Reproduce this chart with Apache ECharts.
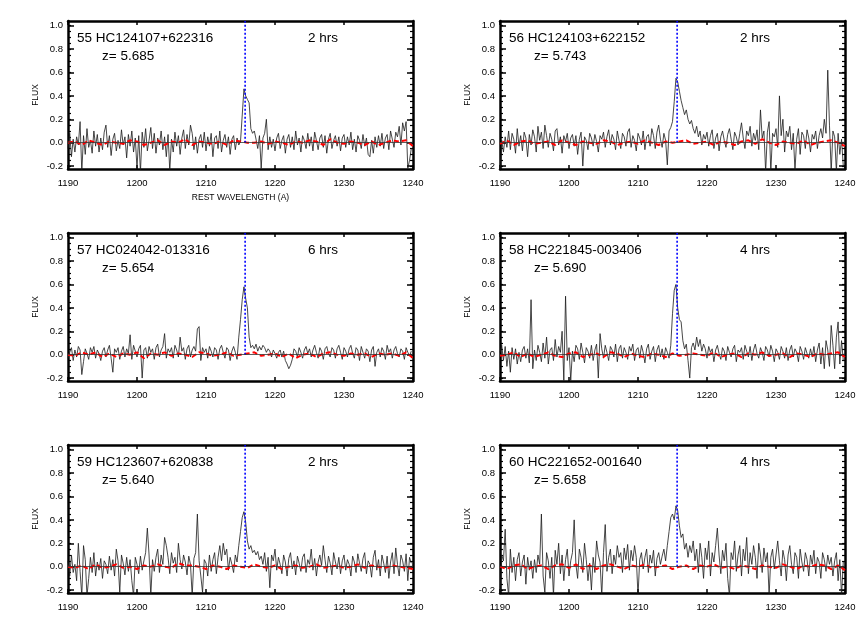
<!DOCTYPE html>
<html>
<head>
<meta charset="utf-8">
<title>Lyman alpha spectra</title>
<script src="https://cdn.jsdelivr.net/npm/echarts@6/dist/echarts.min.js"></script>
<style>
    html, body { margin: 0; padding: 0; background: #fff; }
    #chart { width: 864px; height: 637px; }
</style>
</head>
<body>
<div id="chart"></div>
<script>
// wavelength sampling of the spectra (rest frame, A)
var waveStart = 1190;
var waveStep = 0.25;
var redStep = 1;
var lyaWave = 1215.67;

var yMajor = [-0.2, 0.0, 0.2, 0.4, 0.6, 0.8, 1.0];
var yMinor = [-0.2, -0.15, -0.1, -0.05, 0, 0.05, 0.1, 0.15, 0.2, 0.25, 0.3, 0.35, 0.4, 0.45, 0.5,
    0.55, 0.6, 0.65, 0.7, 0.75, 0.8, 0.85, 0.9, 0.95, 1.0];

var objNames = ['55 HC124107+622316', '56 HC124103+622152', '57 HC024042-013316',
    '58 HC221845-003406', '59 HC123607+620838', '60 HC221652-001640'];
var redshifts = ['z= 5.685', 'z= 5.743', 'z= 5.654', 'z= 5.690', 'z= 5.640', 'z= 5.658'];
var exposures = ['2 hrs', '2 hrs', '6 hrs', '4 hrs', '2 hrs', '4 hrs'];

// flux, one value every 0.25 A from 1190
var spec55 = [
    -0.05, 0.08, -0.12, 0.03, -0.08, 0.05, -0.02, 0.18, -0.25, 0.06, -0.10, 0.12, -0.04, 0.02, -0.09, 0.10, -0.03, 0.07, -0.08, 0.04,
    -0.06, 0.09, 0.15, -0.04, 0.06, -0.11, 0.03, 0.08, -0.07, 0.02, -0.05, 0.11, -0.02, 0.05, -0.13, 0.07, -0.03, 0.10, -0.08, 0.04,
    -0.22, 0.06, -0.25, 0.09, -0.04, 0.12, -0.07, 0.02, 0.13, -0.05, 0.08, -0.09, 0.04, -0.02, 0.10, -0.06, 0.05, -0.12, 0.07, -0.24,
    0.03, -0.08, 0.09, -0.03, 0.06, -0.10, 0.04, 0.11, -0.05, 0.07, -0.02, 0.15, 0.08, -0.06, 0.05, -0.09, 0.03, 0.07, -0.04, 0.09,
    -0.07, 0.05, -0.03, 0.08, -0.12, 0.04, 0.06, -0.05, 0.10, -0.08, 0.02, 0.07, -0.04, 0.05, -0.10, 0.03, 0.06, -0.06, 0.04, -0.02,
    0.01, 0.02, 0.46, 0.40, 0.37, 0.34, 0.12, 0.08, 0.10, 0.03, -0.05, 0.06, -0.22, 0.04, 0.08, 0.20, -0.06, 0.05, -0.04, 0.03,
    -0.07, 0.04, 0.08, -0.05, 0.02, 0.06, -0.09, 0.03, 0.07, -0.04, 0.05, -0.06, 0.10, -0.02, 0.04, -0.08, 0.06, 0.02, -0.05, 0.08,
    -0.03, 0.05, -0.07, 0.09, 0.02, -0.06, 0.04, 0.07, -0.04, 0.06, -0.09, 0.03, 0.08, -0.05, 0.02, 0.06, -0.03, 0.05, -0.07, 0.04,
    0.07, -0.04, 0.05, -0.02, 0.09, -0.06, 0.03, -0.08, 0.06, 0.02, -0.05, 0.07, -0.03, 0.04, -0.10, -0.12, 0.02, -0.09, 0.05, -0.04,
    0.06, -0.03, 0.08, -0.05, 0.04, 0.07, -0.06, 0.10, 0.03, -0.04, 0.09, 0.05, 0.14, -0.02, 0.17, 0.10, 0.18, -0.22, -0.15, -0.05
];
var spec56 = [
    -0.25, 0.02, -0.08, 0.05, -0.04, 0.10, -0.06, 0.08, 0.03, -0.09, 0.12, -0.03, 0.06, -0.07, 0.09, 0.04, -0.12, 0.07, -0.02, 0.11,
    0.05, -0.08, 0.14, 0.02, 0.09, -0.05, 0.15, 0.06, -0.04, 0.08, 0.03, -0.07, 0.10, 0.12, -0.02, 0.05, -0.09, 0.06, 0.01, 0.08,
    -0.05, 0.04, 0.07, -0.03, 0.06, -0.10, 0.03, 0.09, -0.20, 0.05, 0.02, -0.06, 0.08, 0.04, -0.03, 0.07, 0.01, -0.08, 0.06, 0.03,
    0.09, -0.04, 0.05, 0.11, -0.02, 0.07, 0.03, -0.06, 0.10, 0.02, -0.05, 0.08, 0.05, -0.03, 0.09, 0.12, -0.04, 0.06, 0.02, -0.07,
    0.08, 0.04, -0.02, 0.10, -0.06, 0.05, 0.07, -0.03, 0.12, 0.06, -0.05, 0.09, 0.15, 0.03, -0.04, 0.08, 0.02, -0.19, 0.10, 0.13,
    0.18, 0.35, 0.55, 0.52, 0.44, 0.36, 0.30, 0.24, 0.28, 0.20, 0.16, 0.19, 0.12, 0.08, 0.14, 0.05, 0.10, -0.02, 0.07, 0.03,
    0.09, -0.03, 0.06, 0.11, -0.05, 0.04, 0.08, -0.07, 0.05, 0.10, 0.02, -0.04, 0.07, 0.12, 0.03, -0.06, 0.09, 0.05, -0.02, 0.08,
    0.17, 0.04, -0.05, 0.10, 0.06, 0.14, -0.03, 0.08, 0.02, 0.11, -0.06, 0.28, 0.04, 0.10, -0.25, 0.09, 0.18, -0.25, 0.08, 0.05,
    0.12, -0.04, 0.40, 0.06, 0.20, -0.08, 0.10, 0.05, 0.14, -0.06, 0.08, -0.24, 0.03, 0.12, -0.10, 0.09, 0.06, -0.05, 0.11, 0.04,
    -0.08, 0.07, 0.03, 0.10, -0.05, 0.06, 0.12, 0.04, 0.20, 0.08, 0.62, 0.15, -0.25, 0.10, 0.05, -0.25, 0.08, -0.10, 0.03, -0.20
];
var spec57 = [
    -0.03, 0.02, 0.06, -0.05, 0.04, -0.02, 0.07, 0.04, -0.17, -0.06, 0.05, 0.01, -0.04, 0.06, 0.02, 0.07, -0.03, 0.04, 0.01, -0.05,
    0.03, 0.06, -0.02, 0.04, 0.08, -0.03, -0.15, 0.05, 0.02, 0.06, -0.04, 0.03, 0.07, -0.02, 0.05, 0.01, 0.17, -0.04, 0.08, 0.03,
    -0.02, 0.05, 0.08, -0.20, 0.04, 0.06, -0.03, 0.07, 0.02, 0.05, -0.04, 0.06, 0.09, -0.02, 0.04, 0.07, 0.18, -0.03, 0.05, 0.02,
    0.06, -0.03, 0.08, 0.04, -0.02, 0.15, 0.03, 0.06, -0.04, 0.05, 0.08, -0.02, 0.04, 0.07, 0.03, 0.22, 0.24, -0.05, 0.06, 0.02,
    0.05, -0.03, 0.07, 0.03, -0.02, 0.06, 0.04, -0.04, 0.05, 0.08, 0.02, -0.03, 0.06, 0.04, -0.05, 0.03, 0.07, 0.02, -0.04, 0.15,
    0.30, 0.47, 0.58, 0.48, 0.40, 0.15, 0.06, 0.08, 0.05, 0.09, 0.03, 0.07, 0.04, 0.08, 0.06, 0.02, 0.05, 0.03, -0.02, 0.04,
    0.01, -0.03, 0.02, 0.04, -0.02, 0.03, -0.05, -0.08, -0.12, -0.09, -0.04, 0.05, 0.03, -0.02, 0.06, 0.02, -0.03, 0.04, 0.07, 0.01,
    0.05, -0.02, 0.04, 0.08, 0.02, -0.03, 0.06, 0.03, -0.04, 0.05, 0.07, 0.01, -0.02, 0.06, 0.04, -0.03, 0.05, 0.08, 0.02, -0.04,
    0.06, 0.03, -0.02, 0.05, 0.08, 0.01, -0.03, 0.06, 0.04, -0.05, 0.07, 0.02, -0.03, 0.05, 0.03, -0.06, 0.04, 0.07, -0.10, 0.02,
    0.05, -0.02, 0.06, 0.03, -0.04, 0.08, 0.02, 0.05, -0.03, 0.04, 0.07, 0.01, -0.02, 0.05, 0.03, -0.04, 0.06, 0.02, -0.01, 0.03
];
var spec58 = [
    0.02, 0.08, -0.05, 0.07, -0.10, 0.03, -0.15, 0.06, -0.04, 0.05, -0.08, 0.02, -0.06, 0.04, 0.07, -0.03, 0.05, -0.07, 0.47, -0.12,
    0.04, -0.05, 0.08, 0.02, -0.06, 0.10, -0.03, 0.15, -0.08, 0.04, 0.06, -0.05, 0.13, -0.02, 0.07, 0.02, 0.20, -0.22, 0.50, -0.05,
    0.06, -0.22, 0.03, -0.06, 0.08, 0.05, -0.04, 0.10, 0.02, -0.07, 0.06, 0.03, -0.03, 0.08, -0.05, 0.04, 0.09, -0.20, 0.18, 0.05,
    -0.03, 0.08, 0.02, -0.05, 0.07, 0.04, -0.02, 0.09, -0.06, 0.05, 0.08, -0.03, 0.06, 0.02, -0.04, 0.07, 0.03, 0.09, -0.05, 0.04,
    0.06, -0.03, 0.08, 0.02, -0.07, 0.05, 0.09, -0.04, 0.03, 0.07, -0.06, 0.04, 0.08, -0.02, 0.05, -0.04, 0.06, 0.02, -0.03, 0.08,
    0.35, 0.55, 0.60, 0.40, 0.30, 0.28, 0.12, 0.05, 0.09, -0.05, -0.20, 0.06, 0.10, 0.04, 0.15, 0.07, 0.13, 0.03, 0.09, 0.05,
    -0.03, 0.07, 0.02, 0.05, -0.06, 0.04, 0.08, 0.01, -0.04, 0.06, 0.03, -0.05, 0.07, 0.02, -0.02, 0.05, 0.08, -0.06, 0.04, 0.02,
    0.06, -0.04, 0.08, 0.03, -0.02, 0.07, -0.05, 0.04, 0.09, 0.01, -0.03, 0.06, 0.02, -0.05, 0.07, 0.04, -0.02, 0.08, 0.03, -0.06,
    0.05, 0.02, -0.04, 0.07, 0.03, -0.03, 0.06, -0.05, 0.04, 0.08, -0.02, 0.05, 0.02, -0.06, 0.07, 0.03, -0.04, 0.06, 0.01, -0.03,
    0.05, -0.02, 0.07, -0.06, 0.04, 0.10, -0.08, 0.06, -0.12, 0.12, 0.04, -0.10, 0.25, 0.08, -0.12, 0.15, 0.28, -0.08, 0.12, -0.05
];
var spec59 = [
    0.05, -0.08, 0.10, -0.05, 0.02, -0.12, 0.20, -0.04, -0.25, 0.18, 0.06, -0.25, -0.10, 0.08, -0.05, 0.12, -0.08, 0.04, -0.03, 0.07,
    -0.10, 0.05, 0.02, -0.06, 0.09, -0.03, 0.06, -0.08, 0.15, 0.05, -0.22, 0.10, 0.03, -0.07, 0.08, -0.04, 0.06, -0.12, -0.25, 0.08,
    0.02, -0.06, 0.09, -0.03, 0.05, 0.12, 0.33, 0.10, -0.25, 0.06, -0.04, 0.08, 0.15, -0.05, 0.10, 0.02, 0.25, 0.18, 0.08, -0.06,
    0.12, 0.03, 0.08, -0.05, 0.20, 0.06, -0.02, 0.10, 0.04, -0.07, 0.09, 0.02, -0.25, 0.07, 0.12, 0.45, 0.05, -0.08, -0.22, 0.06,
    0.03, -0.08, 0.10, -0.04, 0.06, 0.12, -0.06, 0.08, 0.18, 0.05, 0.20, 0.10, 0.15, -0.03, 0.08, 0.02, -0.05, 0.10, 0.04, 0.18,
    0.30, 0.42, 0.47, 0.38, 0.22, 0.15, 0.18, 0.12, 0.14, 0.10, 0.13, 0.06, 0.09, 0.02, 0.12, -0.04, 0.08, -0.18, 0.10, 0.05,
    0.15, -0.03, 0.08, 0.02, -0.06, 0.10, 0.04, -0.08, 0.07, 0.12, -0.02, 0.05, -0.07, 0.09, 0.03, -0.04, 0.08, 0.11, -0.05, 0.06,
    0.02, 0.15, -0.03, 0.07, -0.08, 0.04, 0.10, 0.01, 0.18, 0.06, -0.05, 0.09, 0.03, -0.07, 0.12, 0.04, -0.02, 0.08, -0.06, 0.05,
    0.10, -0.03, 0.06, 0.02, -0.08, 0.09, 0.04, -0.05, 0.11, 0.03, -0.04, 0.07, 0.12, -0.06, 0.05, 0.02, -0.09, 0.08, 0.14, -0.03,
    0.06, -0.08, 0.10, 0.03, -0.05, 0.09, -0.10, 0.04, 0.12, -0.06, 0.16, 0.02, -0.08, 0.10, 0.05, -0.04, 0.11, -0.12, 0.08, 0.03
];
var spec60 = [
    -0.25, 0.10, 0.05, 0.32, -0.10, -0.25, 0.15, -0.05, 0.08, -0.12, 0.06, 0.12, -0.08, 0.04, 0.10, -0.15, 0.08, -0.03, 0.05, -0.10,
    0.06, -0.05, 0.10, 0.02, 0.45, -0.08, -0.22, 0.12, 0.05, -0.10, 0.08, -0.25, 0.14, 0.02, 0.20, -0.06, 0.10, -0.12, 0.06, 0.15,
    -0.08, 0.05, 0.12, 0.40, 0.02, -0.10, 0.15, 0.08, -0.05, 0.20, 0.06, -0.12, 0.03, -0.20, 0.08, -0.05, 0.22, 0.10, 0.04, -0.25,
    0.12, 0.36, -0.04, 0.08, 0.15, -0.06, 0.10, 0.02, 0.18, 0.08, 0.12, -0.05, 0.16, 0.06, 0.19, -0.03, 0.14, 0.05, 0.18, 0.08,
    -0.25, 0.06, 0.12, -0.02, 0.08, 0.15, -0.05, 0.10, 0.03, 0.14, -0.08, 0.07, 0.12, 0.02, 0.09, 0.15, 0.05, 0.18, 0.30, 0.42,
    0.45, 0.40, 0.52, 0.48, 0.35, 0.25, 0.28, 0.15, 0.20, 0.08, 0.18, 0.12, 0.22, 0.05, 0.15, -0.05, 0.20, 0.08, -0.10, 0.16,
    0.06, 0.22, -0.08, 0.12, 0.04, 0.18, 0.33, 0.10, -0.06, 0.14, 0.05, 0.20, -0.10, -0.25, 0.12, 0.06, 0.22, -0.04, 0.10, 0.18,
    -0.08, 0.15, 0.05, 0.25, -0.06, 0.12, 0.02, 0.18, 0.08, -0.10, 0.20, 0.10, -0.05, 0.16, 0.04, 0.12, -0.25, 0.08, 0.15, -0.02,
    0.10, 0.22, 0.05, -0.08, 0.14, 0.06, -0.12, 0.10, 0.18, 0.02, -0.06, 0.12, 0.08, -0.10, 0.15, 0.04, -0.04, 0.12, 0.06, -0.08,
    0.10, 0.02, 0.14, -0.06, 0.08, 0.04, -0.10, 0.12, 0.06, -0.04, 0.10, 0.02, 0.08, -0.08, 0.05, 0.12, -0.12, 0.06, -0.25, 0.04
];

// red dashed curve, one value per A from 1190
var red55 = [0.00, 0.01, -0.02, 0.02, 0.00, -0.02, 0.01, 0.00, -0.01, 0.02, 0.01, -0.02, 0.00, 0.02, -0.02, 0.01, 0.00,
    0.03, -0.02, 0.01, 0.00, -0.01, 0.01, -0.02, 0.02, 0.01, 0.00, 0.00, 0.01, -0.01, 0.01, 0.00, -0.02, 0.01, 0.00,
    0.02, 0.01, -0.02, 0.03, 0.00, -0.01, 0.01, 0.00, -0.02, 0.01, -0.02, 0.00, 0.02, 0.01, 0.02, -0.03];
var red56 = [-0.01, 0.02, -0.02, 0.01, 0.02, -0.01, 0.00, 0.01, -0.02, 0.02, 0.00, -0.02, 0.01, 0.00, -0.01, 0.02, 0.01,
    -0.02, 0.00, 0.01, -0.01, 0.02, 0.00, -0.02, 0.01, 0.00, 0.01, 0.02, -0.01, 0.00, 0.01, -0.02, 0.01, 0.00, -0.02,
    0.01, 0.02, -0.01, 0.03, 0.00, -0.02, 0.01, 0.00, -0.01, 0.02, -0.02, 0.00, 0.01, 0.02, 0.00, -0.03];
var red57 = [0.00, -0.01, 0.02, 0.00, 0.02, -0.02, 0.01, -0.02, 0.01, 0.00, 0.02, -0.03, 0.01, 0.00, 0.02, -0.01, 0.01,
    0.00, -0.02, 0.02, 0.01, -0.01, 0.00, 0.02, -0.01, 0.00, 0.01, 0.02, -0.01, 0.00, 0.01, -0.02, 0.01, -0.03, 0.00,
    0.01, -0.02, 0.01, 0.02, 0.00, -0.01, 0.01, 0.00, 0.01, -0.02, 0.01, 0.00, 0.01, -0.01, 0.02, -0.03];
var red58 = [-0.01, 0.00, 0.02, -0.02, 0.01, -0.02, 0.00, 0.02, -0.01, -0.02, 0.01, 0.02, -0.02, 0.00, 0.01, -0.02, 0.02,
    0.01, -0.02, 0.01, -0.01, -0.02, 0.01, 0.00, -0.02, 0.01, -0.01, 0.00, 0.01, 0.00, -0.01, 0.02, -0.02, 0.00, 0.01,
    -0.02, 0.01, 0.00, 0.02, -0.01, 0.00, 0.01, -0.02, 0.01, 0.00, -0.02, 0.01, 0.00, 0.01, 0.02, -0.02];
var red59 = [0.00, -0.01, 0.01, -0.02, 0.02, -0.01, 0.00, 0.02, -0.01, 0.00, -0.02, 0.01, 0.00, 0.02, 0.00, -0.01, 0.03,
    0.01, 0.01, 0.00, -0.02, 0.01, 0.00, -0.02, 0.01, 0.00, -0.01, 0.02, 0.00, -0.01, 0.01, -0.02, 0.00, 0.01, -0.01,
    0.00, 0.02, -0.01, 0.00, 0.01, -0.01, 0.00, 0.02, -0.01, 0.01, 0.00, -0.01, 0.01, 0.00, -0.01, -0.02];
var red60 = [0.00, -0.02, 0.01, 0.02, -0.02, 0.00, 0.01, -0.02, 0.01, 0.02, -0.01, 0.02, -0.02, 0.01, -0.02, 0.01, 0.02,
    0.00, -0.02, 0.01, 0.00, 0.02, -0.01, 0.00, 0.01, -0.02, 0.00, 0.01, -0.02, 0.01, 0.00, 0.02, -0.01, 0.00, -0.02,
    0.01, 0.00, -0.02, 0.01, 0.00, -0.01, 0.02, 0.00, -0.02, 0.01, 0.00, 0.02, 0.01, -0.02, 0.01, -0.03];

var spectra = [spec55, spec56, spec57, spec58, spec59, spec60];
var reds = [red55, red56, red57, red58, red59, red60];

var yMin = -0.225, yMax = 1.04;
var colLeft = [68, 500];
var rowTop = [21, 233, 445];
var plotW = 345, plotH = 148;
var fontFam = '"Liberation Sans", Helvetica, Arial, sans-serif';

function toPairs(vals, step) {
    var out = [];
    for (var i = 0; i < vals.length; i++) {
        out.push([waveStart + i * step, vals[i]]);
    }
    return out;
}

function frameLine() {
    return {show: true, onZero: false, lineStyle: {color: '#000', width: 2.5}};
}

function buildOption() {
    var grids = [], xAxes = [], yAxes = [], series = [], texts = [];

    for (var p = 0; p < 6; p++) {
        var gx = colLeft[p % 2], gy = rowTop[Math.floor(p / 2)];
        grids.push({left: gx, top: gy, width: plotW, height: plotH, show: false});

        xAxes.push({
            type: 'value', gridIndex: p, position: 'bottom', min: 1190, max: 1240, interval: 10,
            axisLine: frameLine(),
            axisTick: {show: true, inside: true, length: 4, lineStyle: {color: '#000', width: 1.5}},
            axisLabel: {color: '#000', fontSize: 9.5, fontFamily: fontFam, margin: 9,
                showMinLabel: true, showMaxLabel: true,
                formatter: function (v) { return String(v); }},
            splitLine: {show: false},
            name: p === 0 ? 'REST WAVELENGTH (A)' : '',
            nameLocation: 'middle', nameGap: 24,
            nameTextStyle: {color: '#000', fontSize: 8.5, fontFamily: fontFam}
        });
        xAxes.push({
            type: 'value', gridIndex: p, position: 'top', min: 1190, max: 1240, interval: 10,
            axisLine: frameLine(),
            axisTick: {show: true, inside: true, length: 4, lineStyle: {color: '#000', width: 1.5}},
            axisLabel: {show: false}, splitLine: {show: false}
        });

        ['left', 'right'].forEach(function (side) {
            yAxes.push({
                type: 'value', gridIndex: p, position: side, min: yMin, max: yMax,
                axisLine: frameLine(),
                axisTick: {show: true, inside: true, length: 6, customValues: yMajor,
                    lineStyle: {color: '#000', width: 1.5}},
                axisLabel: side === 'left' ? {
                    show: true, customValues: yMajor, color: '#000', fontSize: 9.5, fontFamily: fontFam, margin: 5,
                    formatter: function (v) { return v.toFixed(1); }
                } : {show: false},
                splitLine: {show: false},
                name: side === 'left' ? 'FLUX' : '',
                nameLocation: 'middle', nameGap: 28, nameRotate: 90,
                nameTextStyle: {color: '#000', fontSize: 8.5, fontFamily: fontFam}
            });
            yAxes.push({
                type: 'value', gridIndex: p, position: side, min: yMin, max: yMax,
                axisLine: {show: false},
                axisTick: {show: true, inside: true, length: 3, customValues: yMinor,
                    lineStyle: {color: '#000', width: 1.2}},
                axisLabel: {show: false}, splitLine: {show: false}
            });
        });

        series.push({
            type: 'line', xAxisIndex: 2 * p, yAxisIndex: 4 * p,
            data: toPairs(spectra[p], waveStep),
            symbol: 'none', clip: true,
            lineStyle: {color: '#1a1a1a', width: 0.8},
            markLine: {
                silent: true, symbol: 'none', label: {show: false},
                lineStyle: {color: '#333', width: 0.8, type: 'solid'},
                data: [{yAxis: 0}]
            },
            z: 2
        });
        series.push({
            type: 'line', xAxisIndex: 2 * p, yAxisIndex: 4 * p,
            data: toPairs(reds[p], redStep),
            symbol: 'none',
            lineStyle: {color: '#ff0000', width: 2, type: [5, 3]},
            z: 3
        });
        series.push({
            type: 'line', xAxisIndex: 2 * p, yAxisIndex: 4 * p,
            data: [[lyaWave, 0], [lyaWave, yMax]],
            symbol: 'none',
            lineStyle: {color: '#0000ff', width: 1.6, type: [2, 2]},
            z: 4
        });

        texts.push({type: 'text', left: gx + 9, top: gy + 10,
            style: {text: objNames[p], font: '13.5px ' + fontFam, fill: '#000'}});
        texts.push({type: 'text', left: gx + 34, top: gy + 28,
            style: {text: redshifts[p], font: '13.5px ' + fontFam, fill: '#000'}});
        texts.push({type: 'text', left: gx + 240, top: gy + 10,
            style: {text: exposures[p], font: '13.5px ' + fontFam, fill: '#000'}});
    }

    return {
        animation: false,
        backgroundColor: '#fff',
        grid: grids,
        xAxis: xAxes,
        yAxis: yAxes,
        series: series,
        graphic: texts
    };
}

var chart = echarts.init(document.getElementById('chart'));
chart.setOption(buildOption());
window.onresize = chart.resize;
</script>
</body>
</html>
